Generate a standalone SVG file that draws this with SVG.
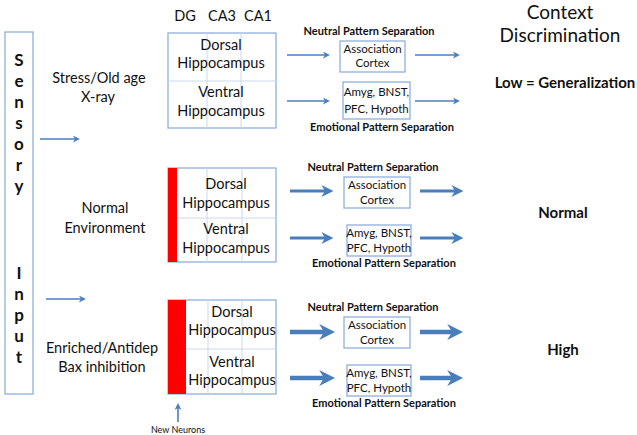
<svg xmlns="http://www.w3.org/2000/svg" width="637" height="435" viewBox="0 0 637 435">
<defs>
<style>
.t{font-family:Lato,"Open Sans","Liberation Sans",sans-serif;fill:#111;text-anchor:middle}
.m{font-size:14.5px}
.s{font-size:11.5px}
.n{font-size:11px;font-weight:bold}
.big{font-size:19px}
.res{font-size:15px;font-weight:bold}
.let{font-size:17px;font-weight:bold}
.box{fill:#fff;stroke:#8EB0DC;stroke-width:1.3}
.grid{stroke:#CBD8EB;stroke-width:1;fill:none}
.red{fill:#FF0000}
.a{stroke:#4A7EBB;fill:none}
.a1{stroke-width:1.6;marker-end:url(#h1)}
.a2{stroke-width:3;marker-end:url(#h2)}
.a3{stroke-width:4.5;marker-end:url(#h3)}
</style>
<marker id="h1" viewBox="0 0 10 10" refX="3" refY="5" markerWidth="7" markerHeight="7" markerUnits="userSpaceOnUse" orient="auto"><path d="M0,0 L10,5 L0,10 L3,5 z" fill="#4A7EBB"/></marker>
<marker id="h2" viewBox="0 0 10 10" refX="3" refY="5" markerWidth="12" markerHeight="12" markerUnits="userSpaceOnUse" orient="auto"><path d="M0,0 L10,5 L0,10 L3,5 z" fill="#4A7EBB"/></marker>
<marker id="h3" viewBox="0 0 10 10" refX="3" refY="5" markerWidth="16" markerHeight="16" markerUnits="userSpaceOnUse" orient="auto"><path d="M0,0 L10,5 L0,10 L3,5 z" fill="#4A7EBB"/></marker>
</defs>
<rect width="637" height="435" fill="#fff"/>

<g id="sensory-input">
<rect class="box" x="5" y="32" width="28" height="362"/>
<g class="t let">
<text x="19" y="66">S</text><text x="19" y="87">e</text><text x="19" y="108">n</text><text x="19" y="129">s</text><text x="19" y="150">o</text><text x="19" y="171">r</text><text x="19" y="192">y</text>
<text x="19" y="279">I</text><text x="19" y="300">n</text><text x="19" y="321">p</text><text x="19" y="342">u</text><text x="19" y="363">t</text>
</g>
</g>

<g id="column-labels" class="t m">
<text x="185" y="21">DG</text><text x="222" y="21">CA3</text><text x="258" y="21">CA1</text>
</g>

<g id="context-title" class="t big">
<text x="560" y="19">Context</text><text x="560" y="42">Discrimination</text>
</g>

<g id="condition-stress" class="t m">
<text x="99" y="83">Stress/Old age</text><text x="98" y="102">X-ray</text>
</g>
<g id="condition-normal" class="t m">
<text x="105" y="213">Normal</text><text x="105" y="233">Environment</text>
</g>
<g id="condition-enriched" class="t m">
<text x="102" y="353">Enriched/Antidep</text><text x="102" y="372">Bax inhibition</text>
</g>

<g id="hippocampus-1">
<rect class="box" x="168" y="33" width="108" height="95"/>
<path class="grid" d="M207,33V128M241,33V128M168,81H276"/>
<g class="t m"><text x="221" y="50">Dorsal</text><text x="221" y="68">Hippocampus</text><text x="221" y="97">Ventral</text><text x="221" y="116">Hippocampus</text></g>
</g>
<g id="hippocampus-2">
<rect class="box" x="168" y="168" width="108" height="94"/>
<path class="grid" d="M207,168V262M242,168V262M168,218H276"/>
<rect class="red" x="168" y="168" width="9" height="94"/>
<g class="t m"><text x="226" y="189">Dorsal</text><text x="226" y="208">Hippocampus</text><text x="226" y="234">Ventral</text><text x="226" y="253">Hippocampus</text></g>
</g>
<g id="hippocampus-3">
<rect class="box" x="168" y="300" width="108" height="94"/>
<path class="grid" d="M208,300V394M242,300V394M168,349H276"/>
<rect class="red" x="168" y="300" width="18" height="94"/>
<g class="t m"><text x="232" y="317">Dorsal</text><text x="232" y="335">Hippocampus</text><text x="232" y="367">Ventral</text><text x="232" y="385">Hippocampus</text></g>
</g>

<g id="new-neurons">
<text class="t" x="178" y="433" style="font-size:9px">New Neurons</text>
</g>

<g id="row1-right">
<text class="t n" x="369" y="35">Neutral Pattern Separation</text>
<g id="assoc-1"><rect class="box" x="340" y="41" width="65" height="31"/><g class="t s"><text x="372.5" y="53">Association</text><text x="372.5" y="67">Cortex</text></g></g>
<g id="amyg-1"><rect class="box" x="343" y="82" width="67" height="37"/><g class="t s"><text x="376.5" y="96">Amyg, BNST,</text><text x="376.5" y="113">PFC, Hypoth</text></g></g>
<text class="t n" x="382" y="131">Emotional Pattern Separation</text>
<text class="t res" x="565" y="88">Low = Generalization</text>
</g>

<g id="row2-right">
<text class="t n" x="373" y="171">Neutral Pattern Separation</text>
<g id="assoc-2"><rect class="box" x="344" y="177" width="66" height="31"/><g class="t s"><text x="377" y="189">Association</text><text x="377" y="204">Cortex</text></g></g>
<g id="amyg-2"><rect class="box" x="347" y="225" width="64" height="31"/><g class="t s"><text x="379" y="237">Amyg, BNST,</text><text x="379" y="252">PFC, Hypoth</text></g></g>
<text class="t n" x="384" y="267">Emotional Pattern Separation</text>
<text class="t res" x="563" y="218">Normal</text>
</g>

<g id="row3-right">
<text class="t n" x="373" y="311">Neutral Pattern Separation</text>
<g id="assoc-3"><rect class="box" x="344" y="317" width="66" height="31"/><g class="t s"><text x="377" y="329">Association</text><text x="377" y="344">Cortex</text></g></g>
<g id="amyg-3"><rect class="box" x="347" y="365" width="64" height="31"/><g class="t s"><text x="379" y="377">Amyg, BNST,</text><text x="379" y="392">PFC, Hypoth</text></g></g>
<text class="t n" x="384" y="407">Emotional Pattern Separation</text>
<text class="t res" x="563" y="355">High</text>
</g>

<g id="connectors" class="a">
<line class="a1" x1="40" y1="139" x2="75" y2="139"/>
<line class="a1" x1="46" y1="299" x2="81" y2="299"/>
<line class="a1" x1="178" y1="422" x2="178" y2="408"/>
<line class="a1" x1="287" y1="55" x2="325" y2="55"/>
<line class="a1" x1="415" y1="55" x2="455" y2="55"/>
<line class="a1" x1="287" y1="101" x2="325" y2="101"/>
<line class="a1" x1="415" y1="101" x2="455" y2="101"/>
<line class="a2" x1="290" y1="191" x2="325" y2="191"/>
<line class="a2" x1="420" y1="191" x2="455" y2="191"/>
<line class="a2" x1="290" y1="238" x2="325" y2="238"/>
<line class="a2" x1="420" y1="238" x2="455" y2="238"/>
<line class="a3" x1="290" y1="332" x2="324" y2="332"/>
<line class="a3" x1="420" y1="332" x2="452" y2="332"/>
<line class="a3" x1="290" y1="378" x2="324" y2="378"/>
<line class="a3" x1="420" y1="378" x2="452" y2="378"/>
</g>
</svg>
